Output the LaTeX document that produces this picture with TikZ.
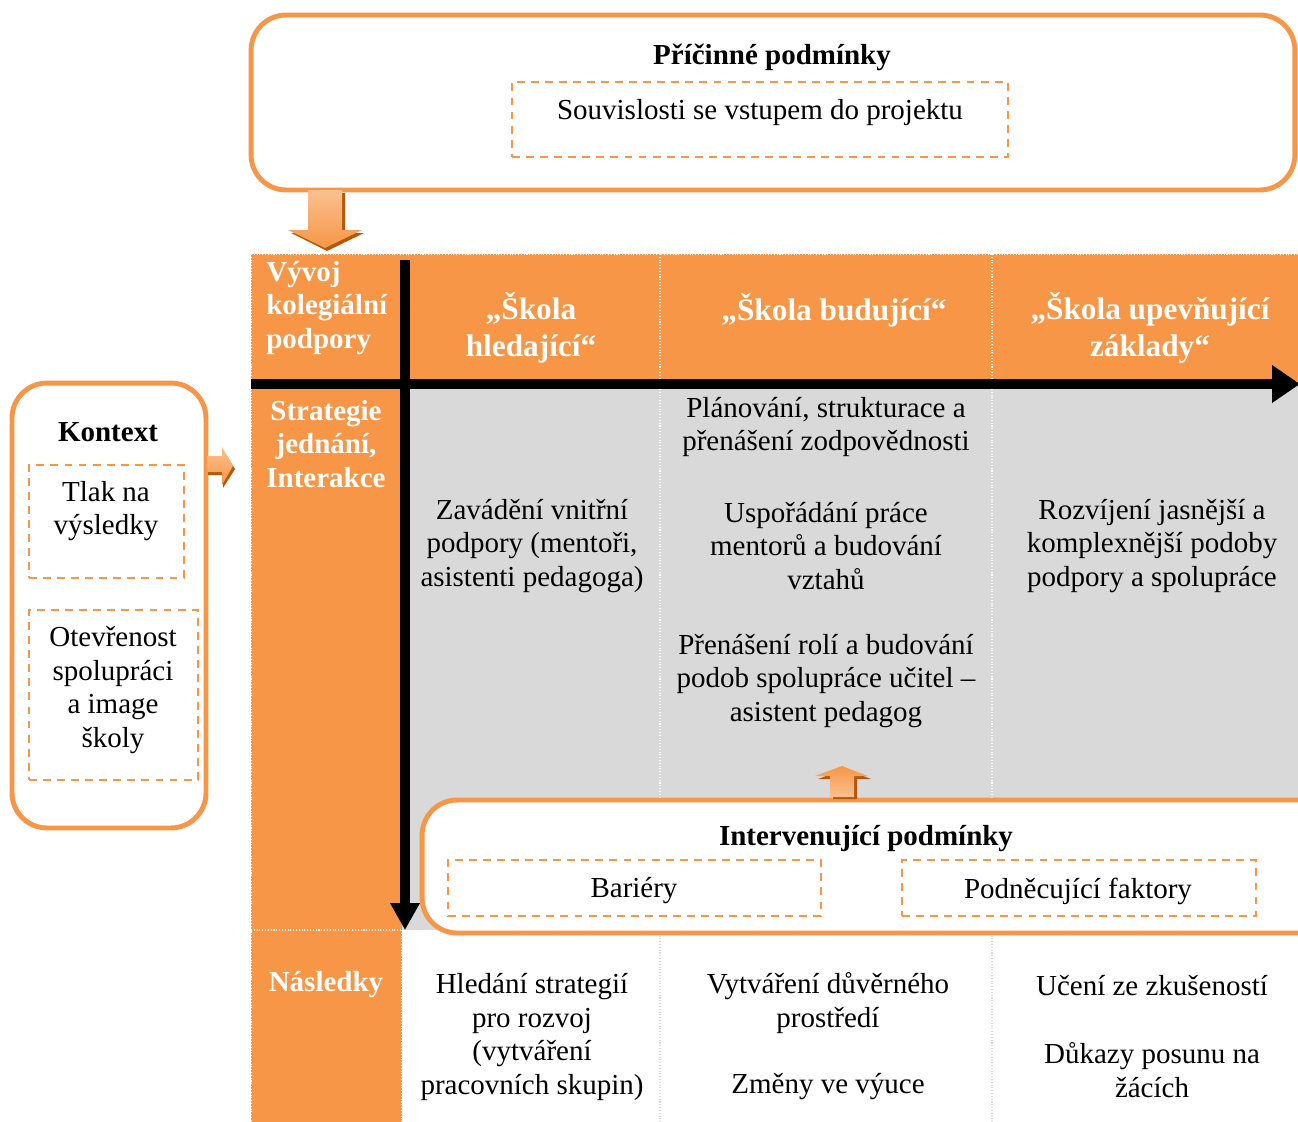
\documentclass[tikz,border=0pt]{standalone}
\usepackage{fontspec}
\setmainfont{Liberation Serif}
\usetikzlibrary{arrows.meta,positioning}

\definecolor{orng}{HTML}{F79646}
\definecolor{orngdark}{HTML}{B65708}
\definecolor{ornglight}{HTML}{FAC090}
\definecolor{cellgray}{HTML}{D9D9D9}

\newcommand{\txtfont}{\fontsize{16.5}{19}\selectfont}
\newcommand{\hdrfont}{\fontsize{17.8}{21}\selectfont\bfseries}

\begin{document}
\begin{tikzpicture}[x=0.02cm, y=-0.02cm,
    roundbox/.style={draw=orng, line width=2.8pt, fill=white, rounded corners=0.7cm, inner sep=0pt},
    dashbox/.style={draw=orng, line width=1.1pt, dash pattern=on 4.5pt off 3.5pt, inner sep=0pt},
    celltext/.style={align=center, font=\txtfont, inner sep=0pt, yshift=-0.06cm},
    titletext/.style={font=\txtfont\bfseries, inner sep=0pt, yshift=-0.05cm},
    sidetext/.style={text=white, align=center, font=\txtfont\bfseries, inner sep=0pt, yshift=-0.04cm},
    headtext/.style={text=white, align=center, font=\hdrfont, inner sep=0pt},
    gridline/.style={white, densely dotted, line width=0.6pt},
    axisline/.style={line width=5.9pt}]
    \useasboundingbox (0, 0) rectangle (1298, 1122);

    \fill[orng] (251, 254) rectangle (1298, 381);
    \fill[orng] (251, 381) rectangle (402, 1122);
    \fill[cellgray] (402, 381) rectangle (1298, 930);
    \draw[gridline] (251, 254) to (1298, 254);
    \draw[gridline] (251, 254) to (251, 1122);
    \draw[gridline] (251, 930) to (402, 930);
    \draw[gridline] (402, 930) to (402, 1122);
    \draw[gridline] (660, 254) to (660, 930);
    \draw[gridline] (992, 254) to (992, 930);
    \draw[gridline, black!15] (660, 930) to (660, 1122);
    \draw[gridline, black!15] (992, 930) to (992, 1122);

    \node[sidetext, align=left, anchor=west] (evo) at (266, 306) {Vývoj\\kolegiální\\podpory};
    \node[headtext] (seek) at (531, 328) {„Škola\\hledající“};
    \node[headtext] (build) at (834, 310) {„Škola budující“};
    \node[headtext] (firm) at (1150, 328) {„Škola upevňující\\základy“};

    \node[sidetext] (strat) at (326, 442) {Strategie\\jednání,\\Interakce};
    \node[celltext] (seekstrat) at (532, 543) {Zavádění vnitřní\\podpory (mentoři,\\asistenti pedagoga)};
    \node[celltext] (plan) at (826, 424) {Plánování, strukturace a\\přenášení zodpovědnosti};
    \node[celltext] (mentor) at (826, 543) {Uspořádání práce\\mentorů a budování\\vztahů};
    \node[celltext] (roles) at (826, 678) {Přenášení rolí a budování\\podob spolupráce učitel –\\asistent pedagog};
    \node[celltext] (firmstrat) at (1152, 543) {Rozvíjení jasnější a\\komplexnější podoby\\podpory a spolupráce};

    \node[sidetext] (result) at (326, 983) {Následky};
    \node[celltext] (seekres) at (532, 1034) {Hledání strategií\\pro rozvoj\\(vytváření\\pracovních skupin)};
    \node[celltext] (trust) at (828, 1000) {Vytváření důvěrného\\prostředí};
    \node[celltext] (teach) at (828, 1084) {Změny ve výuce};
    \node[celltext] (learn) at (1152, 983) {Učení ze zkušeností};
    \node[celltext] (pupils) at (1152, 1067) {Důkazy posunu na\\žácích};

    \coordinate (hstart) at (251, 384);
    \coordinate (hend) at (1300, 384);
    \coordinate (vstart) at (405, 260);
    \coordinate (vend) at (405, 930);
    \draw[axisline, -{Triangle[width=0.72cm, length=0.56cm]}] (hstart) to (hend);
    \draw[axisline, -{Triangle[width=0.56cm, length=0.54cm]}] (vstart) to (vend);

    \node[roundbox, minimum width=20.88cm, minimum height=3.5cm] (cause) at (773, 102.5) {};
    \node[titletext] (causetitle) at (772, 55) {Příčinné podmínky};
    \node[dashbox, minimum width=9.92cm, minimum height=1.5cm] (causebox) at (760, 119.5) {};
    \node[celltext] (causetext) at (760, 110) {Souvislosti se vstupem do projektu};

    \fill[orngdark] (311, 193) -- (345, 193) -- (345, 233) -- (364, 233) -- (327, 251) -- (291, 233) -- (311, 233) -- cycle;
    \shade[top color=ornglight, bottom color=orng] (308, 190) -- (342, 190) -- (342, 230) -- (362, 230) -- (325, 248) -- (288, 230) -- (308, 230) -- cycle;

    \node[roundbox, minimum width=3.88cm, minimum height=8.9cm] (context) at (109, 605.5) {};
    \node[titletext] (contexttitle) at (108, 430) {Kontext};
    \node[dashbox, minimum width=3.1cm, minimum height=2.26cm] (pressbox) at (106.5, 521.5) {};
    \node[celltext] (press) at (106, 508) {Tlak na\\výsledky};
    \node[dashbox, minimum width=3.38cm, minimum height=3.4cm] (openbox) at (113.5, 695) {};
    \node[celltext] (open) at (113, 687) {Otevřenost\\spolupráci\\a image\\školy};

    \fill[orngdark] (208, 459) -- (223, 459) -- (223, 450) -- (235, 469) -- (223, 488) -- (223, 475) -- (208, 475) -- cycle;
    \shade[top color=ornglight, bottom color=orng] (207, 456) -- (222, 456) -- (222, 447) -- (233, 466) -- (222, 485) -- (222, 472) -- (207, 472) -- cycle;

    \node[roundbox, minimum width=18.36cm, minimum height=2.66cm] (interv) at (881, 866.5) {};
    \node[titletext] (intervtitle) at (866, 836) {Intervenující podmínky};
    \node[dashbox, minimum width=7.46cm, minimum height=1.12cm] (barbox) at (634.5, 888) {};
    \node[celltext] (barriers) at (634, 888) {Bariéry};
    \node[dashbox, minimum width=7.08cm, minimum height=1.12cm] (drivebox) at (1079, 888) {};
    \node[celltext] (drivers) at (1078, 888) {Podněcující faktory};

    \fill[orngdark] (833, 799) -- (857, 799) -- (857, 779) -- (871, 779) -- (845, 769) -- (818, 779) -- (833, 779) -- cycle;
    \shade[top color=orng, bottom color=ornglight] (830, 797) -- (854, 797) -- (854, 776) -- (868, 776) -- (842, 766) -- (815, 776) -- (830, 776) -- cycle;
\end{tikzpicture}
\end{document}
